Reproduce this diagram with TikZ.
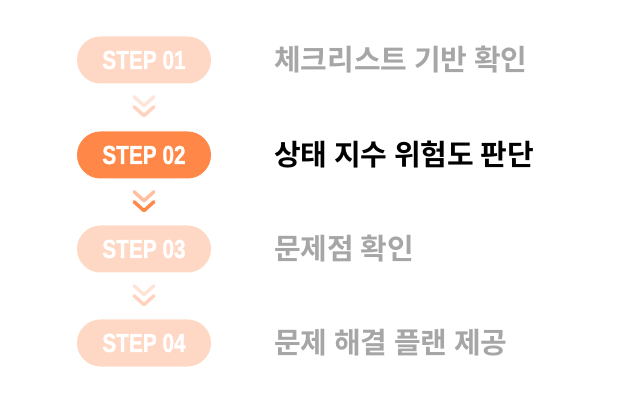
\documentclass[tikz,border=0pt]{standalone}
\usepackage{fontspec}
\usepackage{tikz}
\usetikzlibrary{calc}
\newfontfamily\stepfont{Liberation Sans Bold}[FakeBold=1.2]
\newfontfamily\kofont{Noto Sans CJK KR Bold}

\definecolor{palepeach}{HTML}{FFD8C5}
\definecolor{steporange}{HTML}{FF8747}
\definecolor{chevpale}{HTML}{FFE5D8}
\definecolor{chevlight}{HTML}{FFD3BD}
\definecolor{chevmid}{HTML}{FFBE9E}
\definecolor{labelgray}{HTML}{A6A6A6}

\tikzset{
    pill/.style={fill=palepeach, rounded corners=23.5pt, minimum width=134pt, minimum height=47pt,
                 text=white, font=\stepfont\fontsize{26}{26}\selectfont, inner sep=0pt},
    steptext/.style={anchor=west, text=labelgray, font=\kofont\fontsize{29}{29}\selectfont, inner sep=0pt},
    chev/.style={line width=3.4pt, line cap=round, line join=round}
}

\begin{document}
\begin{tikzpicture}[x=1pt, y=-1pt]
            \useasboundingbox (0,0) rectangle (640,403);
            \begin{scope}[every node/.style={pill}]
                \node (1) at (144,60) {\scalebox{0.8}[1]{STEP 01}};
                \node[fill=steporange] (2) at (144,155) {\scalebox{0.8}[1]{STEP 02}};
                \node (3) at (144,249) {\scalebox{0.8}[1]{STEP 03}};
                \node (4) at (144,343) {\scalebox{0.8}[1]{STEP 04}};
            \end{scope}
            \begin{scope}[every node/.style={steptext}]
                \node (t1) at (274,60) {체크리스트 기반 확인};
                \node[text=black] (t2) at (274,155) {상태 지수 위험도 판단};
                \node (t3) at (274,249) {문제점 확인};
                \node (t4) at (274,343) {문제 해결 플랜 제공};
            \end{scope}
            \begin{scope}[every path/.style={chev}]
                \draw[chevpale] ($(1.south)+(-10,13)$) -- ($(1.south)+(0,22)$) -- ($(1.south)+(10,13)$);
                \draw[chevlight] ($(1.south)+(-10,23)$) -- ($(1.south)+(0,32)$) -- ($(1.south)+(10,23)$);

                \draw[chevmid] ($(2.south)+(-10,13)$) -- ($(2.south)+(0,22)$) -- ($(2.south)+(10,13)$);
                \draw[steporange] ($(2.south)+(-10,23)$) -- ($(2.south)+(0,32)$) -- ($(2.south)+(10,23)$);

                \draw[chevpale] ($(3.south)+(-10,13)$) -- ($(3.south)+(0,22)$) -- ($(3.south)+(10,13)$);
                \draw[chevlight] ($(3.south)+(-10,23)$) -- ($(3.south)+(0,32)$) -- ($(3.south)+(10,23)$);
            \end{scope}
        \end{tikzpicture}
\end{document}
